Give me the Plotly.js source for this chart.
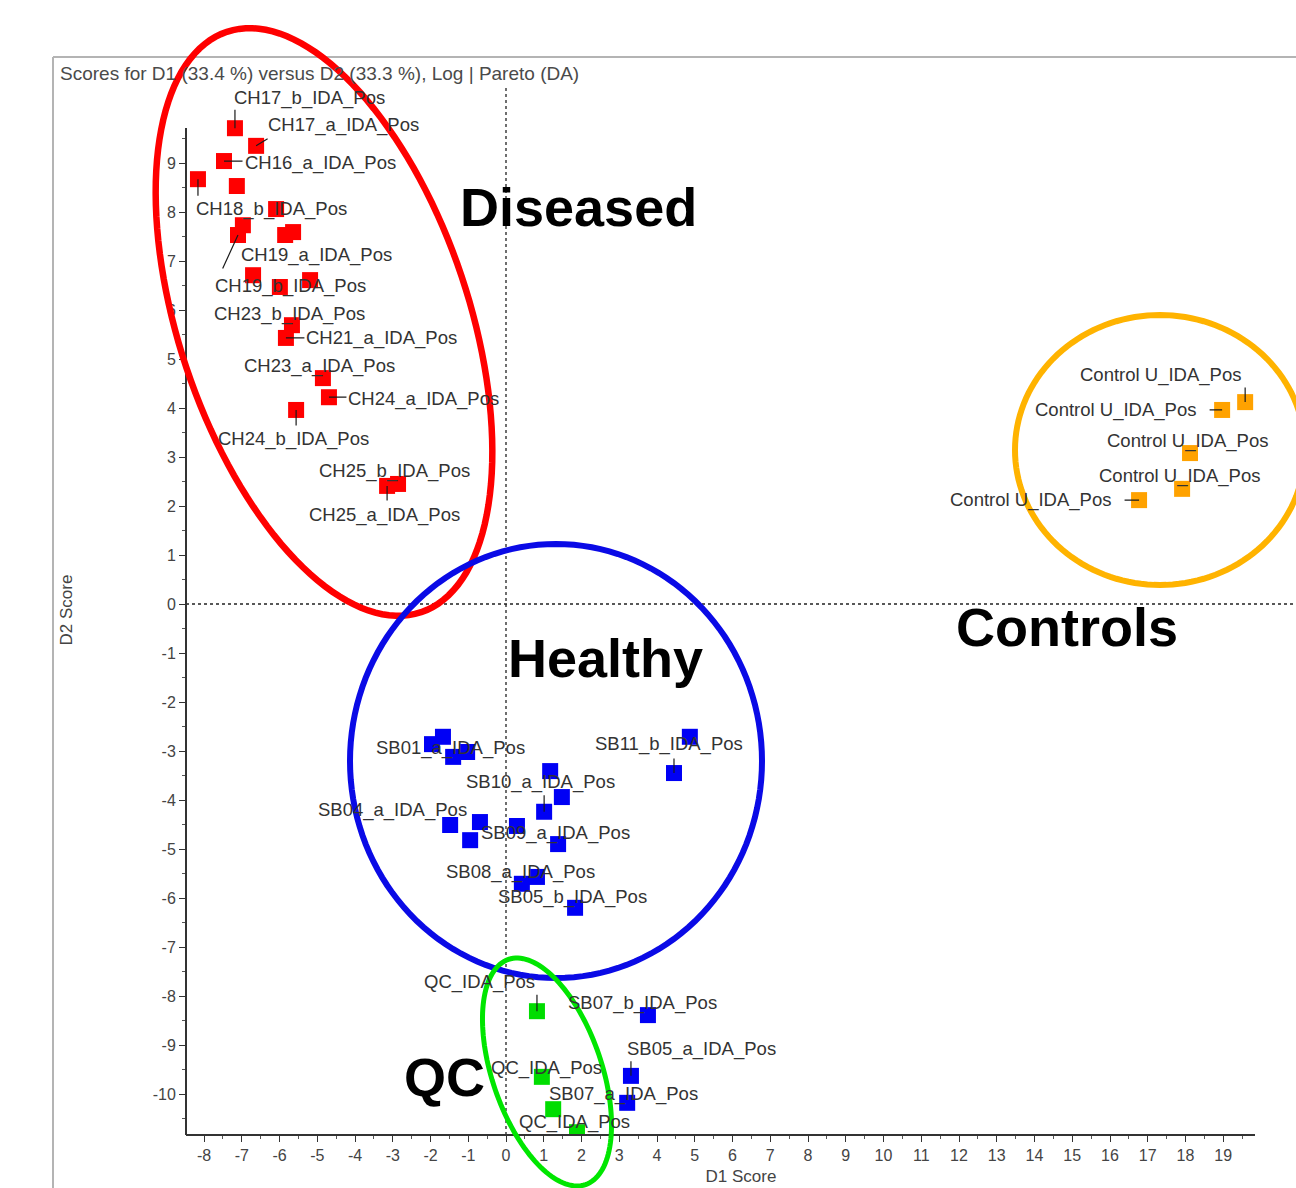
<!DOCTYPE html>
<html>
<head>
<meta charset="utf-8">
<script src="https://cdn.plot.ly/plotly-3.0.1.min.js"></script>
<style>html,body{margin:0;padding:0;background:#fff;}#chart{width:1296px;height:1188px;}</style>
</head>
<body>
<div id="chart"></div>
<script>
// ---------------- data ----------------
const diseasedX = [-7.18,-6.62,-7.47,-8.16,-7.13,-6.09,-6.97,-7.10,-5.85,-5.64,-6.70,-5.99,-5.19,-5.67,-5.83,-4.85,-4.69,-5.56,-3.15,-2.86];
const diseasedY = [9.71,9.35,9.04,8.67,8.53,8.06,7.73,7.53,7.53,7.59,6.71,6.47,6.61,5.69,5.43,4.61,4.22,3.96,2.41,2.45];
const diseasedNames = ['CH17_b_IDA_Pos','CH17_a_IDA_Pos','CH16_a_IDA_Pos','CH18_b_IDA_Pos','','','CH19_a_IDA_Pos','CH19_b_IDA_Pos','','','','','','CH23_b_IDA_Pos','CH21_a_IDA_Pos','CH23_a_IDA_Pos','CH24_a_IDA_Pos','CH24_b_IDA_Pos','CH25_a_IDA_Pos','CH25_b_IDA_Pos'];

const healthyX = [-1.67,-1.96,-1.40,-1.03,1.17,1.48,1.01,-1.48,-0.69,-0.95,0.29,1.38,0.42,0.82,1.83,4.87,4.45,3.76,3.31,3.21];
const healthyY = [-2.71,-2.86,-3.12,-3.02,-3.41,-3.94,-4.24,-4.51,-4.45,-4.82,-4.53,-4.90,-5.71,-5.57,-6.20,-2.71,-3.45,-8.39,-9.63,-10.18];
const healthyNames = ['','SB01_a_IDA_Pos','','','','','SB10_a_IDA_Pos','SB04_a_IDA_Pos','','','SB09_a_IDA_Pos','','','SB08_a_IDA_Pos','SB05_b_IDA_Pos','','SB11_b_IDA_Pos','SB07_b_IDA_Pos','SB05_a_IDA_Pos','SB07_a_IDA_Pos'];

const qcX = [0.82,0.95,1.25,1.88];
const qcY = [-8.31,-9.65,-10.31,-10.78];
const qcNames = ['QC_IDA_Pos','QC_IDA_Pos','','QC_IDA_Pos'];

const controlX = [19.58,18.97,18.12,17.91,16.77];
const controlY = [4.12,3.96,3.08,2.35,2.12];
const controlNames = ['Control U_IDA_Pos','Control U_IDA_Pos','Control U_IDA_Pos','Control U_IDA_Pos','Control U_IDA_Pos'];

const xTickVals = [-8,-7,-6,-5,-4,-3,-2,-1,0,1,2,3,4,5,6,7,8,9,10,11,12,13,14,15,16,17,18,19];
const xTickText = ['-8','-7','-6','-5','-4','-3','-2','-1','0','1','2','3','4','5','6','7','8','9','10','11','12','13','14','15','16','17','18','19'];
const yTickVals = [-10,-9,-8,-7,-6,-5,-4,-3,-2,-1,0,1,2,3,4,5,6,7,8,9];
const yTickText = ['-10','-9','-8','-7','-6','-5','-4','-3','-2','-1','0','1','2','3','4','5','6','7','8','9'];

const chartTitle = 'Scores for D1 (33.4 %) versus D2 (33.3 %), Log | Pareto (DA)';
const xTitle = 'D1 Score';
const yTitle = 'D2 Score';
const groupNames = ['Diseased','Healthy','Controls','QC'];

// ------------- label placement (pixel offsets: text dx,dy ; leader lx,ly) -------------
const diseasedPlace = [[75,-30,0,-20],[87,-21,13,-8],[96,2,20,0],[74,30,0,18],null,null,[74,30],[53,51,-16,35],null,null,null,null,null,[-2,-11],[96,0,20,0],[-3,-12],[95,2,19,0],[-3,29,0,17],[-3,29,0,16],[-4,-13]];
const healthyPlace = [null,[18,4],null,null,null,null,[-4,-30,0,-18],[-58,-15],null,null,[39,7],null,null,[-16,-5],[-3,-11],null,[-5,-29,0,-16],[-5,-12],[71,-27,0,-16],[-4,-9]];
const qcPlace = [[-57,-29,0,-18],[5,-9],null,[-2,-10]];
const controlPlace = [[-85,-27,0,-16],[-107,0,-14,0],[-3,-12],[-3,-13],[-109,0,-16,0]];

// ------------- geometry -------------
const W = 1296, H = 1188;
const M = {l:186, r:0, t:85, b:53};
const PW = W - M.l - M.r, PH = H - M.t - M.b;
const XR = [-320/37.75, 790/37.75];
const YR = [-531/49, 519/49];
const pX = px => (px - M.l)/PW;
const pY = py => (M.t + PH - py)/PH;

function ellipsePath(cx, cy, a, b, deg){
  const th = deg*Math.PI/180;
  let d = '';
  for(let i=0;i<=144;i++){
    const t = i/144*2*Math.PI;
    const x = cx + a*Math.cos(t)*Math.sin(th) + b*Math.sin(t)*Math.cos(th);
    const y = cy + a*Math.cos(t)*Math.cos(th) - b*Math.sin(t)*Math.sin(th);
    d += (i===0?'M':'L') + pX(x).toFixed(5) + ',' + pY(y).toFixed(5) + ' ';
  }
  return d + 'Z';
}

const COL = {red:'#ff0000', blue:'#0000f5', green:'#00dd00', orange:'#ffa200'};

function trace(x,y,names,color){
  return {type:'scatter', mode:'markers', x:x, y:y, text:names, hoverinfo:'text',
    marker:{symbol:'square', size:16, color:color, line:{width:0}}, showlegend:false};
}
const data = [
  trace(diseasedX, diseasedY, diseasedNames, COL.red),
  trace(healthyX, healthyY, healthyNames, COL.blue),
  trace(qcX, qcY, qcNames, COL.green),
  trace(controlX, controlY, controlNames, COL.orange)
];

const annotations = [];
const labelFont = {family:'Liberation Sans, Arial, sans-serif', size:18.5, color:'#333'};
function addLabels(xs, ys, names, place){
  for(let i=0;i<xs.length;i++){
    const p = place[i];
    if(!p || !names[i]) continue;
    if(p.length > 2){
      annotations.push({x:xs[i], y:ys[i], xref:'x', yref:'y', text:'', showarrow:true,
        ax:p[2], ay:p[3], arrowhead:0, arrowwidth:1.2, arrowcolor:'#1a1a1a', standoff:0, startstandoff:0});
    }
    annotations.push({x:xs[i], y:ys[i], xref:'x', yref:'y', text:names[i], showarrow:false,
      xanchor:'center', yanchor:'middle', xshift:p[0], yshift:-p[1], font:labelFont});
  }
}
addLabels(diseasedX, diseasedY, diseasedNames, diseasedPlace);
addLabels(healthyX, healthyY, healthyNames, healthyPlace);
addLabels(qcX, qcY, qcNames, qcPlace);
addLabels(controlX, controlY, controlNames, controlPlace);

const bigFont = {family:'Liberation Sans, Arial, sans-serif', size:54, color:'#000'};
const bigPos = [[578,207],[605,658],[1067,627],[444,1077]];
groupNames.forEach((g,i)=>{
  annotations.push({xref:'paper', yref:'paper', x:pX(bigPos[i][0]), y:pY(bigPos[i][1]), text:'<b>'+g+'</b>',
    showarrow:false, xanchor:'center', yanchor:'middle', font:bigFont});
});

const shapes = [
  // outer frame
  {type:'line', xref:'paper', yref:'paper', x0:pX(53), x1:pX(1300), y0:pY(57), y1:pY(57), line:{color:'#b4b4b4', width:2}},
  {type:'line', xref:'paper', yref:'paper', x0:pX(53), x1:pX(53), y0:pY(57), y1:pY(1200), line:{color:'#b4b4b4', width:2}},
  // zero lines (dotted)
  {type:'line', xref:'x', yref:'paper', x0:0, x1:0, y0:0, y1:1, line:{color:'#222', width:1.3, dash:'dot'}},
  {type:'line', xref:'paper', yref:'y', x0:0, x1:1, y0:0, y1:0, line:{color:'#222', width:1.3, dash:'dot'}},
  // axis lines
  {type:'line', xref:'paper', yref:'paper', x0:0, x1:0, y0:0, y1:pY(128), line:{color:'#333', width:2}},
  {type:'line', xref:'paper', yref:'paper', x0:0, x1:pX(1255), y0:0, y1:0, line:{color:'#333', width:2}},
  // group ellipses
  {type:'path', xref:'paper', yref:'paper', path:ellipsePath(324,322,306,145,18.5), line:{color:'#ff0000', width:6.5}, layer:'above'},
  {type:'path', xref:'paper', yref:'paper', path:ellipsePath(556,761,217,206,0), line:{color:'#0a0ae6', width:6}, layer:'above'},
  {type:'path', xref:'paper', yref:'paper', path:ellipsePath(1160,450,135,145,0), line:{color:'#ffb300', width:6}, layer:'above'},
  {type:'path', xref:'paper', yref:'paper', path:ellipsePath(547,1072,119,54.7,18.9), line:{color:'#00e600', width:5}, layer:'above'}
];

const minorX = [], minorY = [];
for(let v=-8.5; v<=19.5; v+=1) minorX.push(v);
for(let v=-10.5; v<=9.5; v+=1) minorY.push(v);

const tickFont = {family:'Liberation Sans, Arial, sans-serif', size:16, color:'#444'};
const layout = {
  width:W, height:H,
  margin:M,
  paper_bgcolor:'#fff', plot_bgcolor:'#fff',
  title:{text:chartTitle, xref:'container', yref:'container', x:60/W, xanchor:'left', y:1-73/H, yanchor:'middle',
    font:{family:'Liberation Sans, Arial, sans-serif', size:19, color:'#4a4a4a'}},
  xaxis:{range:XR, showgrid:false, zeroline:false, showline:false,
    tickmode:'array', tickvals:xTickVals, ticktext:xTickText, ticks:'outside', ticklen:6, tickwidth:1, tickcolor:'#333',
    minor:{tickmode:'array', tickvals:minorX, ticks:'outside', ticklen:3, tickwidth:1, tickcolor:'#555'},
    tickfont:tickFont,
    title:{text:xTitle, standoff:6, font:{family:'Liberation Sans, Arial, sans-serif', size:17, color:'#444'}}},
  yaxis:{range:YR, showgrid:false, zeroline:false, showline:false,
    tickmode:'array', tickvals:yTickVals, ticktext:yTickText, ticks:'outside', ticklen:6, tickwidth:1, tickcolor:'#333',
    minor:{tickmode:'array', tickvals:minorY, ticks:'outside', ticklen:3, tickwidth:1, tickcolor:'#555'},
    tickfont:tickFont,
    title:{text:yTitle, standoff:75, font:{family:'Liberation Sans, Arial, sans-serif', size:17, color:'#444'}}},
  shapes:shapes,
  annotations:annotations,
  showlegend:false
};

Plotly.newPlot('chart', data, layout, {displayModeBar:false, staticPlot:true});
</script>
</body>
</html>
